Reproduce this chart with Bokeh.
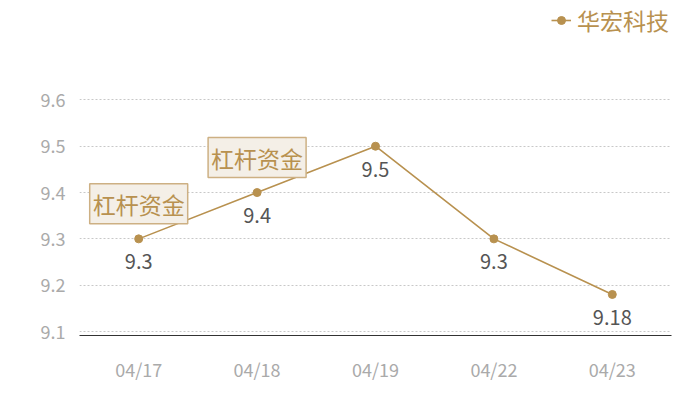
from bokeh.plotting import figure
from bokeh.models import ColumnDataSource, FixedTicker, Legend, LegendItem
from bokeh.core.properties import value
from bokeh.embed import file_html
from bokeh.resources import INLINE

dates = ["04/17", "04/18", "04/19", "04/22", "04/23"]
prices = [9.3, 9.4, 9.5, 9.3, 9.18]
price_labels = ["9.3", "9.4", "9.5", "9.3", "9.18"]
note_dates = ["04/17", "04/18"]
note_values = [9.3, 9.4]
note_texts = ["杠杆资金", "杠杆资金"]
y_ticks = [9.1, 9.2, 9.3, 9.4, 9.5, 9.6]
series_name = "华宏科技"

GOLD = "#b8914f"
FONT = "Noto Sans CJK SC"

p = figure(x_range=dates, y_range=(9.0914, 9.793), width=684, height=384,
           output_backend="svg", toolbar_location=None,
           min_border_left=79, min_border_right=13, min_border_top=10, min_border_bottom=47)
p.outline_line_color = None
p.background_fill_color = "white"

src = ColumnDataSource(dict(x=dates, y=prices, lab=price_labels))
ln = p.line("x", "y", source=src, line_color=GOLD, line_width=1.6)
pt = p.scatter("x", "y", source=src, size=8, fill_color=GOLD, line_color=GOLD)

p.text("x", "y", text="lab", source=src, x_offset=0, y_offset=23,
       text_align="center", text_baseline="middle", text_font=value(FONT),
       text_font_size="20px", text_color="#555555")

nsrc = ColumnDataSource(dict(x=note_dates, y=note_values, t=note_texts))
p.text("x", "y", text="t", source=nsrc, x_offset=0, y_offset=-35,
       text_align="center", text_baseline="middle", text_font=value(FONT),
       text_font_size="23px", text_color=GOLD,
       background_fill_color="#f4efe7", border_line_color="#cdb083",
       border_line_width=1.5, padding=3)

p.yaxis.ticker = FixedTicker(ticks=y_ticks)
p.yaxis.axis_line_color = None
p.yaxis.major_tick_line_color = None
p.yaxis.minor_tick_line_color = None
p.yaxis.major_label_text_color = "#aaaaaa"
p.yaxis.major_label_text_font = FONT
p.yaxis.major_label_text_font_size = "18px"
p.yaxis.major_label_standoff = 8

p.xaxis.axis_line_color = "#333333"
p.xaxis.axis_line_width = 1.2
p.xaxis.major_tick_line_color = None
p.xaxis.minor_tick_line_color = None
p.xaxis.major_label_text_color = "#aaaaaa"
p.xaxis.major_label_text_font = FONT
p.xaxis.major_label_text_font_size = "18px"
p.xaxis.major_label_standoff = 14

p.xgrid.grid_line_color = None
p.ygrid.grid_line_color = "#c8c8c8"
p.ygrid.grid_line_dash = "2 2"
p.ygrid.grid_line_width = 1

legend = Legend(items=[LegendItem(label=series_name, renderers=[ln, pt])],
                location=(472, 298), background_fill_alpha=0, border_line_color=None,
                label_text_color=GOLD, label_text_font=FONT, label_text_font_size="23px",
                glyph_width=20, label_standoff=6, margin=0, padding=0)
p.add_layout(legend)

open("out.html", "w").write(file_html(p, INLINE))
